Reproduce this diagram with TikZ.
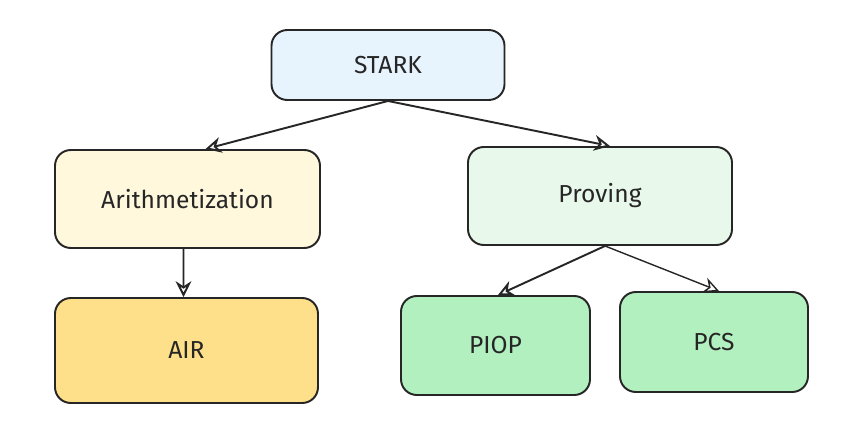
\documentclass[tikz,border=0pt]{standalone}
\usepackage{fontspec}
\setmainfont{Fira Sans}
\usepackage{tikz}
\usetikzlibrary{positioning,arrows.meta}

\definecolor{starkblue}{HTML}{E7F3FD}
\definecolor{arithyellow}{HTML}{FFF8DC}
\definecolor{airyellow}{HTML}{FFE08A}
\definecolor{provgreen}{HTML}{E8F8EA}
\definecolor{leafgreen}{HTML}{B2F0C0}

\tikzset{
  box/.style={draw=black!85,line width=1.1pt,rounded corners=9pt,
    font=\fontsize{14}{16}\selectfont,text=black!85},
  link/.style={-{Stealth[open,length=9pt,width=9pt]},line width=1.1pt,black!85}
}

\begin{document}
\begin{tikzpicture}
    \useasboundingbox (0,0) rectangle (16.88,-8.92);
    \node[box,fill=starkblue,minimum width=4.66cm,minimum height=1.4cm] (stark) at (7.76,-1.30) {STARK};
    \node[box,fill=arithyellow,minimum width=5.3cm,minimum height=1.96cm] (arith) at (3.75,-3.98) {Arithmetization};
    \node[box,fill=provgreen,minimum width=5.28cm,minimum height=1.96cm] (prov) at (12.00,-3.92) {Proving};
    \node[box,fill=airyellow,minimum width=5.26cm,minimum height=2.1cm] (air) at (3.73,-7.01) {AIR};
    \node[box,fill=leafgreen,minimum width=3.78cm,minimum height=1.98cm] (piop) at (9.91,-6.91) {PIOP};
    \node[box,fill=leafgreen,minimum width=3.76cm,minimum height=2.0cm] (pcs) at (14.28,-6.84) {PCS};
    \draw[link] (stark.south) -- ([xshift=0.36cm]arith.north);
    \draw[link] (stark.south) -- ([xshift=0.2cm]prov.north);
    \draw[link] ([xshift=-0.08cm]arith.south) -- ([xshift=-0.06cm]air.north);
    \draw[link] ([xshift=0.1cm]prov.south) -- ([xshift=0.05cm]piop.north);
    \draw[link,line width=0.8pt] ([xshift=0.1cm]prov.south) -- ([xshift=0.1cm]pcs.north);
\end{tikzpicture}
\end{document}
